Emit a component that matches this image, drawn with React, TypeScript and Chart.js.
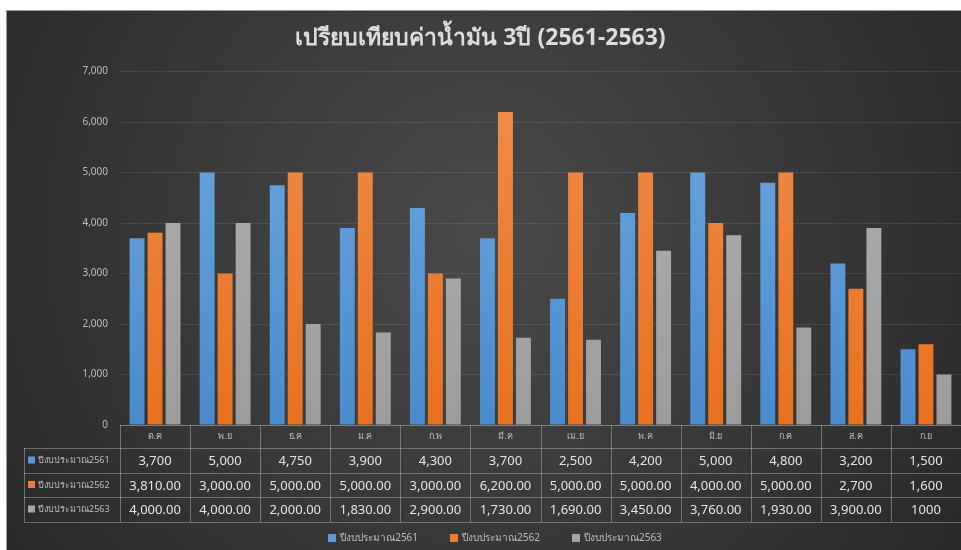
import React, { useEffect, useRef } from "react";
import { Chart, registerables } from "chart.js";

Chart.register(...registerables);

const categories = ["ต.ค", "พ.ย", "ธ.ค", "ม.ค", "ก.พ", "มี.ค", "เม.ย", "พ.ค", "มิ.ย", "ก.ค", "ส.ค", "ก.ย"];
const seriesNames = ["ปีงบประมาณ2561", "ปีงบประมาณ2562", "ปีงบประมาณ2563"];
const budget2561 = [3700, 5000, 4750, 3900, 4300, 3700, 2500, 4200, 5000, 4800, 3200, 1500];
const budget2562 = [3810, 3000, 5000, 5000, 3000, 6200, 5000, 5000, 4000, 5000, 2700, 1600];
const budget2563 = [4000, 4000, 2000, 1830, 2900, 1730, 1690, 3450, 3760, 1930, 3900, 1000];
const table2561 = ["3,700", "5,000", "4,750", "3,900", "4,300", "3,700", "2,500", "4,200", "5,000", "4,800", "3,200", "1,500"];
const table2562 = ["3,810.00", "3,000.00", "5,000.00", "5,000.00", "3,000.00", "6,200.00", "5,000.00", "5,000.00", "4,000.00", "5,000.00", "2,700", "1,600"];
const table2563 = ["4,000.00", "4,000.00", "2,000.00", "1,830.00", "2,900.00", "1,730.00", "1,690.00", "3,450.00", "3,760.00", "1,930.00", "3,900.00", "1000"];
const titleText = "เปรียบเทียบค่าน้ำมัน 3ปี (2561-2563)";

const colorsTop = ["#6ea9e0", "#f08d4c", "#b3b3b3"];
const colorsBottom = ["#4a8bcd", "#e8711f", "#9c9c9c"];
const solid = ["#5b9bd5", "#ed7d31", "#a5a5a5"];

const FONT = "Tahoma, 'Noto Sans', 'DejaVu Sans', sans-serif";

const bgPlugin = {
  id: "bgPlugin",
  beforeDraw(chart: any) {
    const ctx = chart.ctx;
    ctx.save();
    ctx.fillStyle = "#ffffff";
    ctx.fillRect(0, 0, chart.width, chart.height);
    const g = ctx.createRadialGradient(480, 230, 0, 480, 230, 620);
    g.addColorStop(0, "#4a4a4a");
    g.addColorStop(1, "#262626");
    ctx.fillStyle = g;
    ctx.fillRect(6, 10, chart.width - 6, chart.height - 10);
    ctx.strokeStyle = "#9a9a9a";
    ctx.lineWidth = 1;
    ctx.beginPath();
    ctx.moveTo(6, 10.5);
    ctx.lineTo(chart.width, 10.5);
    ctx.moveTo(6.5, 10);
    ctx.lineTo(6.5, chart.height);
    ctx.stroke();
    ctx.restore();
  },
};

const tablePlugin = {
  id: "tablePlugin",
  afterDraw(chart: any) {
    const ctx = chart.ctx;
    const xs = chart.scales.x;
    const area = chart.chartArea;
    const n = categories.length;
    const colW = (xs.right - xs.left) / n;
    const top = area.bottom;
    const rowH = [23, 25, 24, 25];
    const ys = [top];
    rowH.forEach((h) => ys.push(ys[ys.length - 1] + h));
    const leftX = 24;
    ctx.save();
    ctx.strokeStyle = "rgba(190,190,190,0.45)";
    ctx.lineWidth = 1;
    ctx.beginPath();
    ctx.moveTo(xs.left, Math.round(ys[0]) + 0.5);
    ctx.lineTo(xs.right, Math.round(ys[0]) + 0.5);
    for (let r = 1; r < ys.length; r++) {
      ctx.moveTo(leftX, Math.round(ys[r]) + 0.5);
      ctx.lineTo(xs.right, Math.round(ys[r]) + 0.5);
    }
    for (let i = 0; i <= n; i++) {
      const x = Math.round(xs.left + i * colW) + 0.5;
      ctx.moveTo(x, ys[0]);
      ctx.lineTo(x, ys[4]);
    }
    ctx.moveTo(leftX + 0.5, ys[1]);
    ctx.lineTo(leftX + 0.5, ys[4]);
    ctx.stroke();

    ctx.textAlign = "center";
    ctx.textBaseline = "middle";
    ctx.fillStyle = "#bdbdbd";
    ctx.font = "9px " + FONT;
    for (let i = 0; i < n; i++) {
      const cx = xs.getPixelForTick(i);
      ctx.fillText(categories[i], cx, (ys[0] + ys[1]) / 2);
    }
    const rows = [table2561, table2562, table2563];
    ctx.font = "13px " + FONT;
    ctx.fillStyle = "#e4e4e4";
    rows.forEach((row, r) => {
      for (let i = 0; i < n; i++) {
        const cx = xs.getPixelForTick(i);
        ctx.fillText(row[i], cx, (ys[r + 1] + ys[r + 2]) / 2 + 1);
      }
    });
    ctx.textAlign = "left";
    ctx.font = "9px " + FONT;
    seriesNames.forEach((name, r) => {
      const cy = (ys[r + 1] + ys[r + 2]) / 2;
      ctx.fillStyle = solid[r];
      ctx.fillRect(28, cy - 4, 7, 7);
      ctx.fillStyle = "#bdbdbd";
      ctx.fillText(name, 38, cy);
    });

    // legend
    ctx.font = "10px " + FONT;
    const box = 8;
    const gapBox = 4;
    const gapItem = 32;
    const widths = seriesNames.map((s) => box + gapBox + ctx.measureText(s).width);
    const total = widths.reduce((a, b) => a + b, 0) + gapItem * (widths.length - 1);
    let x = 495 - total / 2;
    const ly = 538;
    seriesNames.forEach((name, i) => {
      ctx.fillStyle = solid[i];
      ctx.fillRect(Math.round(x), ly - 4, box, box);
      ctx.fillStyle = "#bdbdbd";
      ctx.fillText(name, x + box + gapBox, ly);
      x += widths[i] + gapItem;
    });
    ctx.restore();
  },
};

function makeGradient(chart: any, i: number) {
  const area = chart.chartArea;
  if (!area) return solid[i];
  const g = chart.ctx.createLinearGradient(0, area.top, 0, area.bottom);
  g.addColorStop(0, colorsTop[i]);
  g.addColorStop(1, colorsBottom[i]);
  return g;
}

export default function App() {
  const ref = useRef<HTMLCanvasElement>(null);
  useEffect(() => {
    if (!ref.current) return;
    const values = [budget2561, budget2562, budget2563];
    const chart = new Chart(ref.current, {
      type: "bar",
      data: {
        labels: categories,
        datasets: values.map((v, i) => ({
          label: seriesNames[i],
          data: v,
          backgroundColor: (c: any) => makeGradient(c.chart, i),
          borderColor: solid[i],
          borderWidth: 0,
          categoryPercentage: 0.77,
          barPercentage: 0.83,
        })),
      },
      options: {
        animation: false,
        responsive: false,
        maintainAspectRatio: false,
        layout: { padding: { left: 0, right: 0, top: 0, bottom: 0 } },
        plugins: {
          title: {
            display: true,
            text: titleText,
            color: "#dcdcdc",
            font: { family: FONT, size: 23, weight: "bold" },
            padding: { top: 25, bottom: 19 },
          },
          legend: { display: false },
          tooltip: { enabled: false },
        },
        scales: {
          x: {
            ticks: { display: false },
            grid: { display: false },
            border: { display: false },
            afterFit: (s: any) => {
              s.height = 125;
            },
          },
          y: {
            min: 0,
            max: 7000,
            ticks: {
              stepSize: 1000,
              color: "#bdbdbd",
              font: { family: FONT, size: 10 },
              padding: 12,
              callback: (v: any) => Number(v).toLocaleString("en-US"),
            },
            grid: { color: "rgba(255,255,255,0.09)", drawTicks: false },
            border: { display: false },
            afterFit: (s: any) => {
              s.width = 120;
            },
          },
        },
      },
      plugins: [bgPlugin, tablePlugin],
    });
    return () => chart.destroy();
  }, []);
  return (
    <div style={{ position: "fixed", left: 0, top: 0, width: 961, height: 550, background: "#fff" }}>
      <canvas ref={ref} width={961} height={550} style={{ display: "block", width: 961, height: 550 }} />
    </div>
  );
}
